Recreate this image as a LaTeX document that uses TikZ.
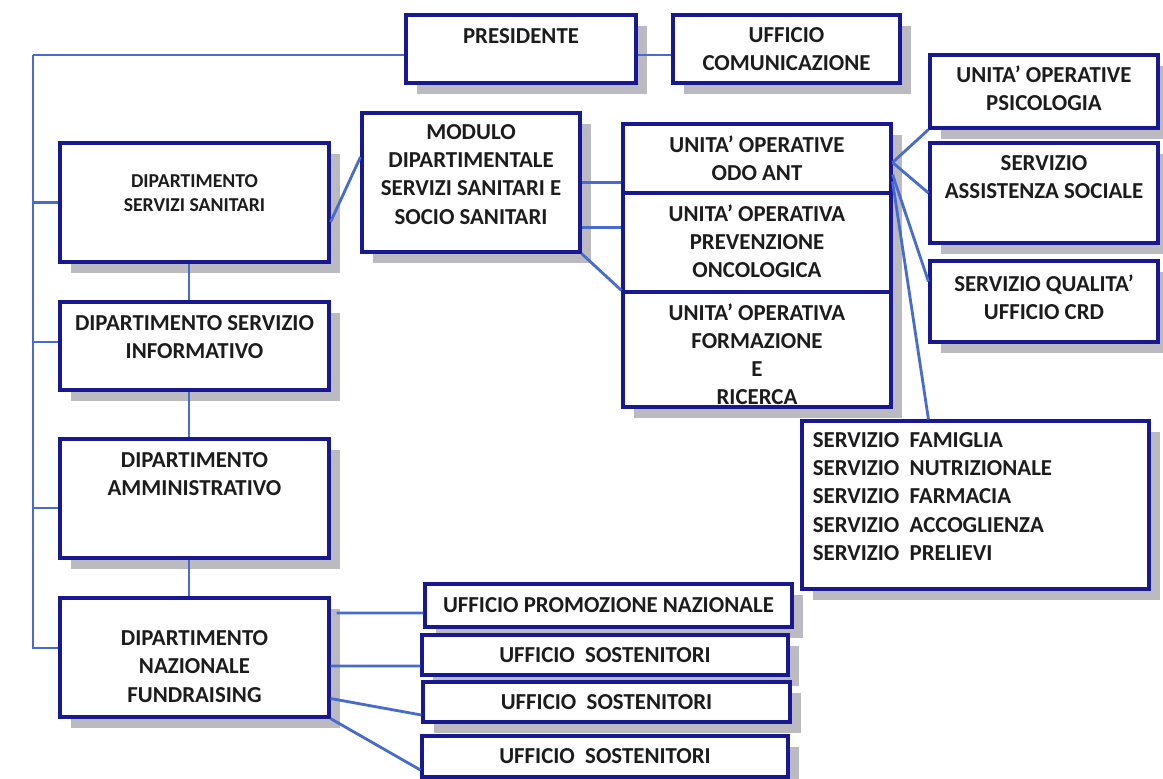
\documentclass[tikz,border=0pt]{standalone}
\usepackage{fontspec}
\setmainfont{Carlito}
\usetikzlibrary{positioning, calc, shadows}

\definecolor{boxblue}{RGB}{24,24,145}
\definecolor{linkblue}{RGB}{72,108,205}
\definecolor{shadowgray}{RGB}{186,186,192}
\definecolor{textgray}{RGB}{28,28,28}

\begin{document}
\begin{tikzpicture}[
  x=0.02cm, y=-0.02cm,
  box/.style={draw=boxblue, line width=1.8pt, fill=white, rectangle, inner sep=0pt,
    drop shadow={shadow xshift=0.22cm, shadow yshift=-0.22cm, fill=shadowgray, opacity=1}},
  lbl/.style={inner sep=0pt, align=center, text=textgray, font=\fontsize{13}{16}\selectfont\bfseries},
  lblsmall/.style={lbl, font=\fontsize{11.2}{13.5}\selectfont\bfseries},
  link/.style={draw=linkblue, line width=1.6pt}
]
\useasboundingbox (0,0) rectangle (1163,778);
\fill[white] (0,0) rectangle (1163,778);

% top
\node[box, minimum width=4.60cm, minimum height=1.36cm] (pres) at (521,49) {};
\node[box, minimum width=4.54cm, minimum height=1.36cm] (comun) at (786.5,49) {};

% left column
\node[box, minimum width=5.38cm, minimum height=2.38cm] (dipss) at (194.5,202.5) {};
\node[box, minimum width=5.38cm, minimum height=1.76cm] (dipinf) at (194.5,346) {};
\node[box, minimum width=5.38cm, minimum height=2.38cm] (dipamm) at (194.5,498.5) {};
\node[box, minimum width=5.38cm, minimum height=2.38cm] (dipfund) at (194.5,657.5) {};

% sanitari
\node[box, minimum width=4.36cm, minimum height=2.78cm] (modulo) at (471,182.5) {};
\node[box, minimum width=5.36cm, minimum height=1.38cm] (odoant) at (757,158.5) {};
\node[box, minimum width=5.36cm, minimum height=1.98cm] (prev) at (757,242.5) {};
\node[box, minimum width=5.36cm, minimum height=2.30cm] (form) at (757,349.5) {};

\node[box, minimum width=4.56cm, minimum height=1.46cm] (psico) at (1044,91.5) {};
\node[box, minimum width=4.56cm, minimum height=2.00cm] (assist) at (1044,193) {};
\node[box, minimum width=4.56cm, minimum height=1.62cm] (qual) at (1044,301.5) {};
\node[box, minimum width=6.94cm, minimum height=3.36cm] (servizi) at (975.5,505) {};

% fundraising
\node[box, minimum width=7.34cm, minimum height=0.86cm] (promo) at (608.5,605.5) {};
\node[box, minimum width=7.32cm, minimum height=0.80cm] (sost1) at (605,655) {};
\node[box, minimum width=7.34cm, minimum height=0.80cm] (sost2) at (606.5,702) {};
\node[box, minimum width=7.32cm, minimum height=0.82cm] (sost3) at (605,756.5) {};

% texts
\node[lbl] (pres-t) at ($(pres)+(0,-13)$) {PRESIDENTE};
\node[lbl] (comun-t) at (comun) {UFFICIO\\COMUNICAZIONE};
\node[lblsmall] (dipss-t) at ($(dipss)+(0,-9.5)$) {DIPARTIMENTO\\SERVIZI SANITARI};
\node[lbl] (dipinf-t) at ($(dipinf)+(0,-9)$) {DIPARTIMENTO SERVIZIO\\INFORMATIVO};
\node[lbl] (dipamm-t) at ($(dipamm)+(0,-24)$) {DIPARTIMENTO\\AMMINISTRATIVO};
\node[lbl] (dipfund-t) at ($(dipfund)+(0,9)$) {DIPARTIMENTO\\NAZIONALE\\FUNDRAISING};
\node[lbl] (modulo-t) at ($(modulo)+(0,-8)$) {MODULO\\DIPARTIMENTALE\\SERVIZI SANITARI E\\SOCIO SANITARI};
\node[lbl] (odoant-t) at (odoant) {UNITA’ OPERATIVE\\ODO ANT};
\node[lbl] (prev-t) at ($(prev)+(0,-1)$) {UNITA’ OPERATIVA\\PREVENZIONE\\ONCOLOGICA};
\node[lbl] (form-t) at ($(form)+(0,5)$) {UNITA’ OPERATIVA\\FORMAZIONE\\E\\RICERCA};
\node[lbl] (psico-t) at ($(psico)+(0,-3)$) {UNITA’ OPERATIVE\\PSICOLOGIA};
\node[lbl] (assist-t) at ($(assist)+(0,-15.5)$) {SERVIZIO\\ASSISTENZA SOCIALE};
\node[lbl] (qual-t) at ($(qual)+(0,-4.5)$) {SERVIZIO QUALITA’\\UFFICIO CRD};
\node[lbl, align=left, anchor=west] (servizi-t) at ($(servizi.west)+(12,-8.5)$)
  {SERVIZIO~~FAMIGLIA\\SERVIZIO~~NUTRIZIONALE\\SERVIZIO~~FARMACIA\\SERVIZIO~~ACCOGLIENZA\\SERVIZIO~~PRELIEVI};
\node[lbl] (promo-t) at (promo) {UFFICIO PROMOZIONE NAZIONALE};
\node[lbl] (sost1-t) at (sost1) {UFFICIO~~SOSTENITORI};
\node[lbl] (sost2-t) at (sost2) {UFFICIO~~SOSTENITORI};
\node[lbl] (sost3-t) at (sost3) {UFFICIO~~SOSTENITORI};

% connectors
\coordinate (spine) at (33,55);
\draw[link] ($(pres.west)+(0,6)$) -- (spine);
\draw[link] (dipss.west) -| (spine);
\draw[link] ($(dipinf.west)+(0,-4)$) -| (spine);
\draw[link] ($(dipamm.west)+(0,9.5)$) -| (spine);
\draw[link] ($(dipfund.west)+(0,-9.5)$) -| (spine);

\draw[link] ($(pres.east)+(0,6)$) -- ($(comun.west)+(0,6)$);

\draw[link] ($(dipss.south)+(-5.5,0)$) -- ($(dipinf.north)+(-5.5,0)$);
\draw[link] ($(dipinf.south)+(-5.5,0)$) -- ($(dipamm.north)+(-5.5,0)$);
\draw[link] ($(dipamm.south)+(-5.5,0)$) -- ($(dipfund.north)+(-5.5,0)$);

\draw[link] ($(dipss.east)+(0,19.5)$) -- ($(modulo.west)+(0,-25.5)$);
\draw[link] (modulo.east) -- (modulo.east -| odoant.west);
\coordinate (m-prev) at ($(modulo.east)+(0,45)$);
\draw[link] (m-prev) -- (m-prev -| prev.west);
\draw[link] (modulo.south east) -- (form.north west);

\coordinate (fan) at ($(odoant.east)+(0,4)$);
\draw[link] (fan) -- (psico.south west);
\draw[link] (fan) -- (assist.west);
\draw[link] ($(odoant.east)+(0,16)$) -- ($(qual.west)+(0,-20)$);
\draw[link] ($(odoant.east)+(0,23)$) -- ($(servizi.north west)+(128,0)$);

\draw[link] ($(dipfund.east)+(6,-44.5)$) -- ($(promo.west)+(0,7.5)$);
\draw[link] ($(dipfund.east)+(0,8.5)$) -- ($(sost1.west)+(0,11)$);
\draw[link] ($(dipfund.east)+(0,41)$) -- ($(sost2.west)+(0,13)$);
\draw[link] (dipfund.south east) -- ($(sost3.west)+(0,13.5)$);
\end{tikzpicture}
\end{document}
